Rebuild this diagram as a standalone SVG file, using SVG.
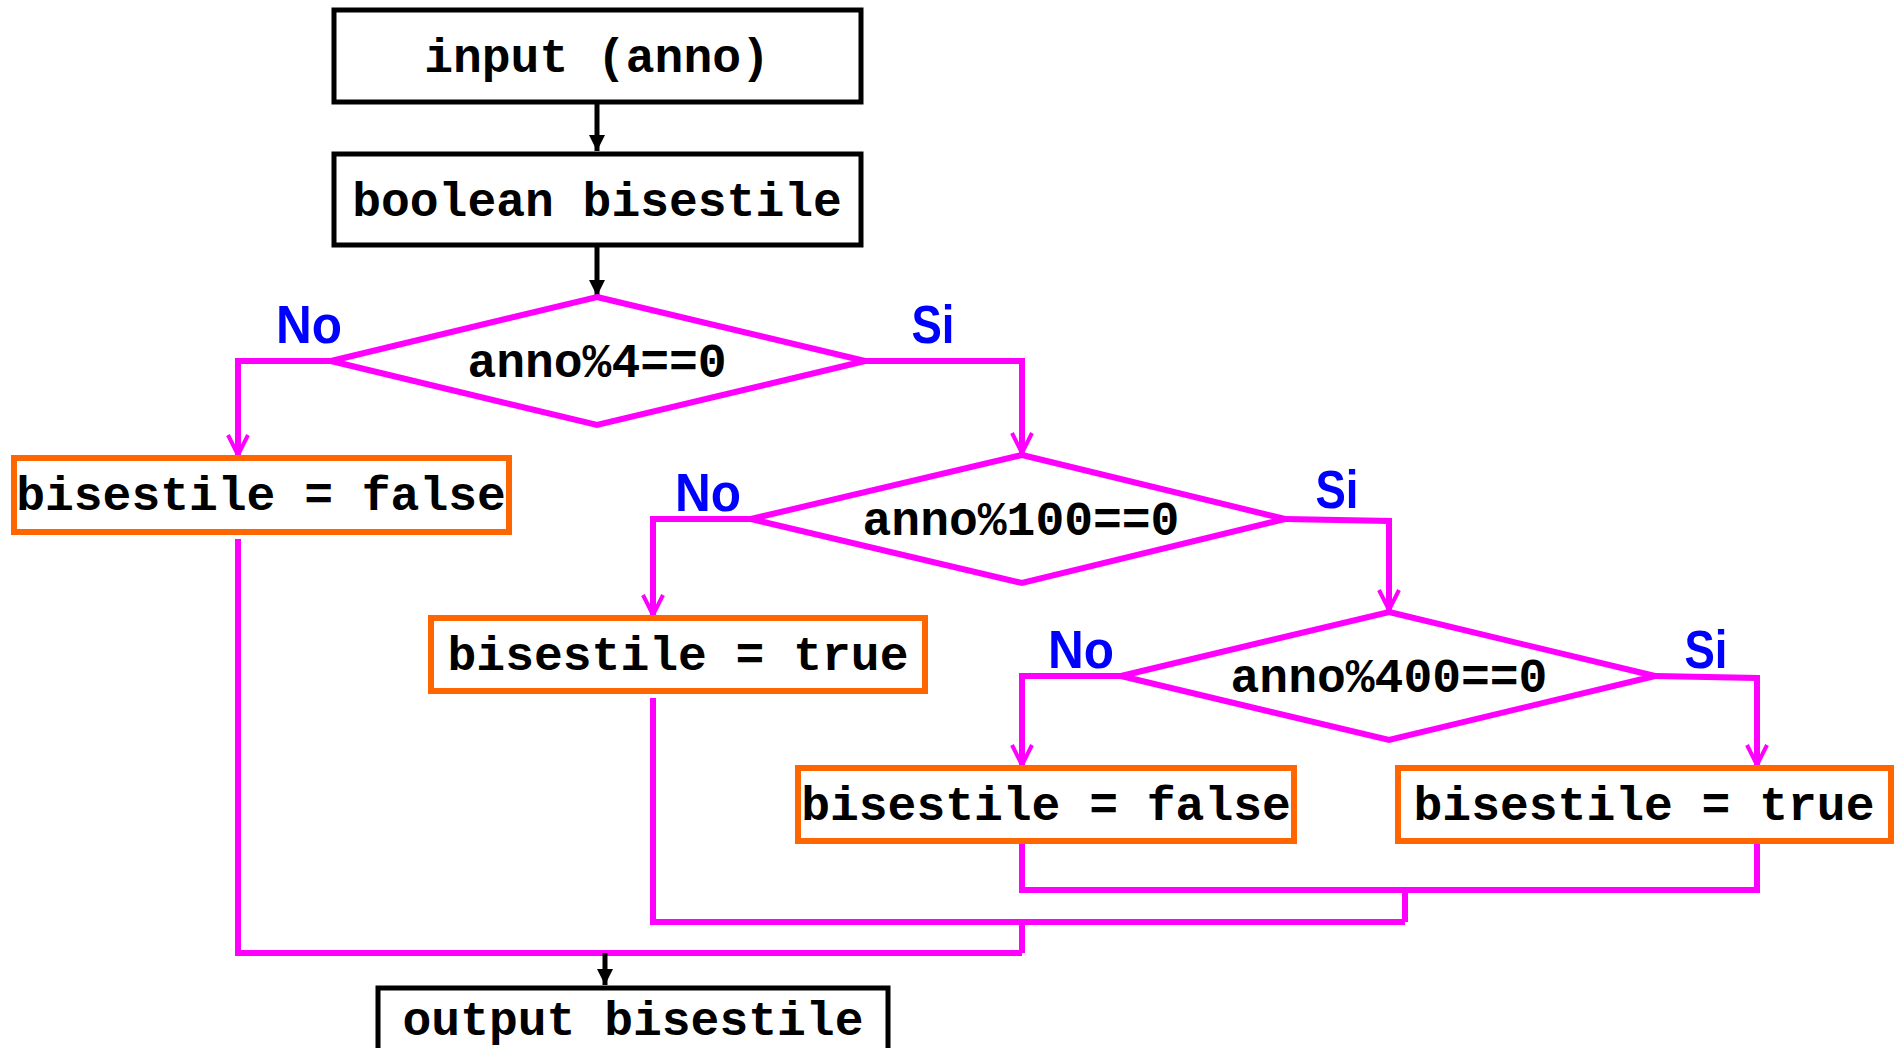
<svg xmlns="http://www.w3.org/2000/svg" width="1894" height="1048" viewBox="0 0 1894 1048">
  <style>
    .box { fill: #ffffff; stroke: #000000; stroke-width: 5; }
    .act { fill: #ffffff; stroke: #ff6600; stroke-width: 6; }
    .dec { fill: #ffffff; stroke: #ff00ff; stroke-width: 6; stroke-linejoin: miter; }
    .code { font-family: "Liberation Mono", "Courier New", monospace; font-weight: bold; font-size: 48px; fill: #000000; text-anchor: middle; }
    .lbl { font-family: "Liberation Sans", Arial, sans-serif; font-weight: bold; font-size: 54px; fill: #0000ff; text-anchor: middle; }
    .flow { fill: none; stroke: #ff00ff; stroke-width: 6; }
    .ctl { fill: none; stroke: #000000; stroke-width: 5; }
  </style>
  <defs>
    <marker id="tipBlack" viewBox="0 0 16 16" refX="16" refY="8" markerWidth="16" markerHeight="16" markerUnits="userSpaceOnUse" orient="auto">
      <path d="M0 0 L16 8 L0 16 Z" fill="#000000"/>
    </marker>
    <marker id="tipPink" viewBox="0 0 22 24" refX="21" refY="12" markerWidth="22" markerHeight="24" markerUnits="userSpaceOnUse" orient="auto">
      <path d="M1 2 L21 12 L1 22" fill="none" stroke="#ff00ff" stroke-width="4"/>
    </marker>
  </defs>

  <!-- connectors -->
  <g id="connectors">
    <path class="ctl" d="M597 103 V151" marker-end="url(#tipBlack)"/>
    <path class="ctl" d="M597 246 V296" marker-end="url(#tipBlack)"/>
    <path class="flow" d="M331 361 H238 V455" marker-end="url(#tipPink)"/>
    <path class="flow" d="M865 361 H1022 V453" marker-end="url(#tipPink)"/>
    <path class="flow" d="M751 519 H653 V615" marker-end="url(#tipPink)"/>
    <path class="flow" d="M1285 519 L1389 521 V610" marker-end="url(#tipPink)"/>
    <path class="flow" d="M1121 676 H1022 V765" marker-end="url(#tipPink)"/>
    <path class="flow" d="M1655 676 L1757 678 V765" marker-end="url(#tipPink)"/>
    <path class="flow" d="M1022 842 V890 H1757 V842"/>
    <path class="flow" d="M1405 890 V922"/>
    <path class="flow" d="M653 698 V922 H1405"/>
    <path class="flow" d="M1022 922 V953"/>
    <path class="flow" d="M238 539 V953 H1022"/>
    <path class="ctl" d="M605 953 V985" marker-end="url(#tipBlack)"/>
  </g>

  <!-- nodes -->
  <g id="input">
    <rect class="box" x="334" y="10" width="527" height="92"/>
    <text class="code" x="597" y="72">input (anno)</text>
  </g>
  <g id="declare">
    <rect class="box" x="334" y="154" width="527" height="91"/>
    <text class="code" x="597" y="216">boolean bisestile</text>
  </g>
  <g id="check4">
    <polygon class="dec" points="597,297 865,361 597,425 331,361"/>
    <text class="code" x="597" y="377">anno%4==0</text>
  </g>
  <g id="false1">
    <rect class="act" x="14" y="458" width="495" height="74"/>
    <text class="code" x="261" y="510">bisestile = false</text>
  </g>
  <g id="check100">
    <polygon class="dec" points="1022,455 1285,519 1022,583 751,519"/>
    <text class="code" x="1021" y="535">anno%100==0</text>
  </g>
  <g id="true1">
    <rect class="act" x="431" y="618" width="494" height="73"/>
    <text class="code" x="678" y="670">bisestile = true</text>
  </g>
  <g id="check400">
    <polygon class="dec" points="1389,612 1655,676 1389,740 1121,676"/>
    <text class="code" x="1389" y="692">anno%400==0</text>
  </g>
  <g id="false2">
    <rect class="act" x="798" y="768" width="496" height="73"/>
    <text class="code" x="1046" y="820">bisestile = false</text>
  </g>
  <g id="true2">
    <rect class="act" x="1398" y="768" width="493" height="73"/>
    <text class="code" x="1644" y="820">bisestile = true</text>
  </g>
  <g id="output">
    <rect class="box" x="378" y="988" width="510" height="66"/>
    <text class="code" x="633" y="1035">output bisestile</text>
  </g>

  <!-- branch labels -->
  <g id="labels">
    <text class="lbl" x="309" y="343" textLength="66" lengthAdjust="spacingAndGlyphs">No</text>
    <text class="lbl" x="933" y="343" textLength="43" lengthAdjust="spacingAndGlyphs">Si</text>
    <text class="lbl" x="708" y="511" textLength="66" lengthAdjust="spacingAndGlyphs">No</text>
    <text class="lbl" x="1337" y="508" textLength="43" lengthAdjust="spacingAndGlyphs">Si</text>
    <text class="lbl" x="1081" y="668" textLength="66" lengthAdjust="spacingAndGlyphs">No</text>
    <text class="lbl" x="1706" y="668" textLength="43" lengthAdjust="spacingAndGlyphs">Si</text>
  </g>
</svg>
